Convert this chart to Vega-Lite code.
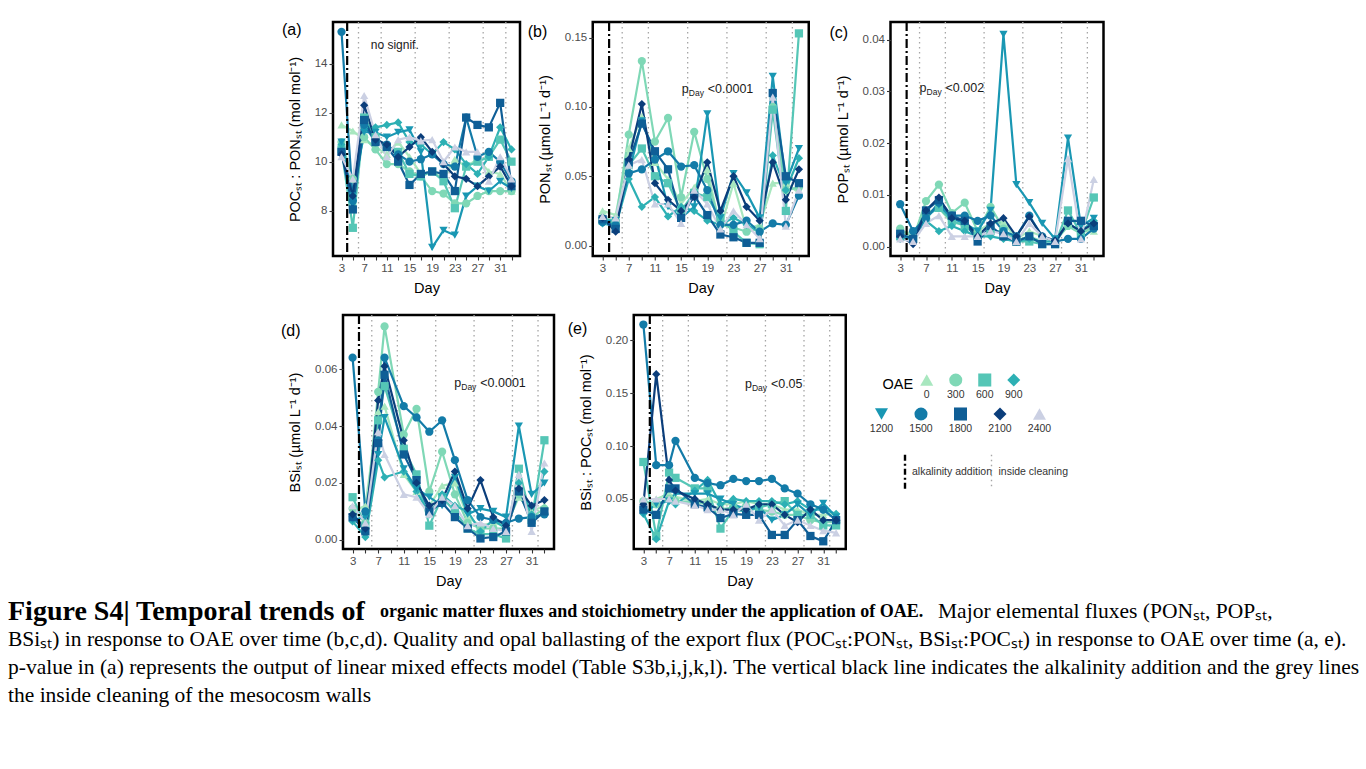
{
  "$schema": "https://vega.github.io/schema/vega-lite/v6.json",
  "background": "white",
  "padding": {"left": 8, "top": 19, "right": 0, "bottom": 0},
  "datasets": {
    "a": [
      {"day":3,"OAE":0,"v":11.5},{"day":5,"OAE":0,"v":11.25},{"day":7,"OAE":0,"v":10.9},{"day":9,"OAE":0,"v":10.6},{"day":11,"OAE":0,"v":10.3},{"day":13,"OAE":0,"v":10.8},{"day":15,"OAE":0,"v":10.2},{"day":17,"OAE":0,"v":9.5},{"day":19,"OAE":0,"v":9.6},{"day":21,"OAE":0,"v":9.3},{"day":23,"OAE":0,"v":10.1},{"day":25,"OAE":0,"v":9.8},{"day":27,"OAE":0,"v":10.1},{"day":29,"OAE":0,"v":9.6},{"day":31,"OAE":0,"v":9.5},{"day":33,"OAE":0,"v":8.8},
      {"day":3,"OAE":300,"v":10.8},{"day":5,"OAE":300,"v":9.3},{"day":7,"OAE":300,"v":11.0},{"day":9,"OAE":300,"v":10.5},{"day":11,"OAE":300,"v":9.9},{"day":13,"OAE":300,"v":9.9},{"day":15,"OAE":300,"v":9.6},{"day":17,"OAE":300,"v":9.4},{"day":19,"OAE":300,"v":8.8},{"day":21,"OAE":300,"v":8.7},{"day":23,"OAE":300,"v":8.3},{"day":25,"OAE":300,"v":8.3},{"day":27,"OAE":300,"v":8.6},{"day":29,"OAE":300,"v":8.8},{"day":31,"OAE":300,"v":8.8},{"day":33,"OAE":300,"v":8.8},
      {"day":3,"OAE":600,"v":10.5},{"day":5,"OAE":600,"v":7.3},{"day":7,"OAE":600,"v":11.8},{"day":9,"OAE":600,"v":11.0},{"day":11,"OAE":600,"v":10.6},{"day":13,"OAE":600,"v":10.4},{"day":15,"OAE":600,"v":9.5},{"day":17,"OAE":600,"v":9.4},{"day":19,"OAE":600,"v":9.6},{"day":21,"OAE":600,"v":9.2},{"day":23,"OAE":600,"v":8.1},{"day":25,"OAE":600,"v":9.8},{"day":27,"OAE":600,"v":10.0},{"day":29,"OAE":600,"v":10.2},{"day":31,"OAE":600,"v":10.9},{"day":33,"OAE":600,"v":10.0},
      {"day":3,"OAE":900,"v":10.7},{"day":5,"OAE":900,"v":8.4},{"day":7,"OAE":900,"v":11.4},{"day":9,"OAE":900,"v":11.4},{"day":11,"OAE":900,"v":11.5},{"day":13,"OAE":900,"v":11.6},{"day":15,"OAE":900,"v":10.8},{"day":17,"OAE":900,"v":10.7},{"day":19,"OAE":900,"v":10.3},{"day":21,"OAE":900,"v":10.8},{"day":23,"OAE":900,"v":10.5},{"day":25,"OAE":900,"v":9.9},{"day":27,"OAE":900,"v":9.5},{"day":29,"OAE":900,"v":10.2},{"day":31,"OAE":900,"v":11.4},{"day":33,"OAE":900,"v":10.5},
      {"day":3,"OAE":1200,"v":10.8},{"day":5,"OAE":1200,"v":8.6},{"day":7,"OAE":1200,"v":11.2},{"day":9,"OAE":1200,"v":11.2},{"day":11,"OAE":1200,"v":11.0},{"day":13,"OAE":1200,"v":11.2},{"day":15,"OAE":1200,"v":11.3},{"day":17,"OAE":1200,"v":10.4},{"day":19,"OAE":1200,"v":6.5},{"day":21,"OAE":1200,"v":7.2},{"day":23,"OAE":1200,"v":7.0},{"day":25,"OAE":1200,"v":8.6},{"day":27,"OAE":1200,"v":9.0},{"day":29,"OAE":1200,"v":8.8},{"day":31,"OAE":1200,"v":9.2},{"day":33,"OAE":1200,"v":8.9},
      {"day":3,"OAE":1500,"v":15.3},{"day":5,"OAE":1500,"v":8.4},{"day":7,"OAE":1500,"v":11.5},{"day":9,"OAE":1500,"v":10.8},{"day":11,"OAE":1500,"v":10.7},{"day":13,"OAE":1500,"v":10.3},{"day":15,"OAE":1500,"v":10.0},{"day":17,"OAE":1500,"v":10.1},{"day":19,"OAE":1500,"v":10.3},{"day":21,"OAE":1500,"v":9.9},{"day":23,"OAE":1500,"v":9.8},{"day":25,"OAE":1500,"v":11.8},{"day":27,"OAE":1500,"v":10.2},{"day":29,"OAE":1500,"v":10.4},{"day":31,"OAE":1500,"v":10.0},{"day":33,"OAE":1500,"v":9.2},
      {"day":3,"OAE":1800,"v":10.4},{"day":5,"OAE":1800,"v":8.05},{"day":7,"OAE":1800,"v":11.7},{"day":9,"OAE":1800,"v":10.8},{"day":11,"OAE":1800,"v":10.6},{"day":13,"OAE":1800,"v":10.0},{"day":15,"OAE":1800,"v":9.05},{"day":17,"OAE":1800,"v":9.5},{"day":19,"OAE":1800,"v":9.6},{"day":21,"OAE":1800,"v":9.5},{"day":23,"OAE":1800,"v":8.8},{"day":25,"OAE":1800,"v":11.8},{"day":27,"OAE":1800,"v":11.5},{"day":29,"OAE":1800,"v":11.4},{"day":31,"OAE":1800,"v":12.4},{"day":33,"OAE":1800,"v":9.0},
      {"day":3,"OAE":2100,"v":10.3},{"day":5,"OAE":2100,"v":8.6},{"day":7,"OAE":2100,"v":12.3},{"day":9,"OAE":2100,"v":10.9},{"day":11,"OAE":2100,"v":10.7},{"day":13,"OAE":2100,"v":10.2},{"day":15,"OAE":2100,"v":10.6},{"day":17,"OAE":2100,"v":11.0},{"day":19,"OAE":2100,"v":10.4},{"day":21,"OAE":2100,"v":9.9},{"day":23,"OAE":2100,"v":9.4},{"day":25,"OAE":2100,"v":9.3},{"day":27,"OAE":2100,"v":9.0},{"day":29,"OAE":2100,"v":9.4},{"day":31,"OAE":2100,"v":9.8},{"day":33,"OAE":2100,"v":9.0},
      {"day":3,"OAE":2400,"v":10.2},{"day":5,"OAE":2400,"v":9.3},{"day":7,"OAE":2400,"v":12.7},{"day":9,"OAE":2400,"v":11.1},{"day":11,"OAE":2400,"v":10.2},{"day":13,"OAE":2400,"v":10.9},{"day":15,"OAE":2400,"v":11.0},{"day":17,"OAE":2400,"v":10.85},{"day":19,"OAE":2400,"v":10.9},{"day":21,"OAE":2400,"v":10.0},{"day":23,"OAE":2400,"v":10.6},{"day":25,"OAE":2400,"v":10.4},{"day":27,"OAE":2400,"v":10.4},{"day":29,"OAE":2400,"v":9.2},{"day":31,"OAE":2400,"v":10.2},{"day":33,"OAE":2400,"v":9.3}
    ],
    "b": [
      {"day":3,"OAE":0,"v":0.025},{"day":5,"OAE":0,"v":0.022},{"day":7,"OAE":0,"v":0.07},{"day":9,"OAE":0,"v":0.093},{"day":11,"OAE":0,"v":0.06},{"day":13,"OAE":0,"v":0.048},{"day":15,"OAE":0,"v":0.03},{"day":17,"OAE":0,"v":0.042},{"day":19,"OAE":0,"v":0.055},{"day":21,"OAE":0,"v":0.012},{"day":23,"OAE":0,"v":0.045},{"day":25,"OAE":0,"v":0.012},{"day":27,"OAE":0,"v":0.015},{"day":29,"OAE":0,"v":0.045},{"day":31,"OAE":0,"v":0.045},{"day":33,"OAE":0,"v":0.038},
      {"day":3,"OAE":300,"v":0.02},{"day":5,"OAE":300,"v":0.018},{"day":7,"OAE":300,"v":0.08},{"day":9,"OAE":300,"v":0.133},{"day":11,"OAE":300,"v":0.075},{"day":13,"OAE":300,"v":0.092},{"day":15,"OAE":300,"v":0.035},{"day":17,"OAE":300,"v":0.082},{"day":19,"OAE":300,"v":0.048},{"day":21,"OAE":300,"v":0.015},{"day":23,"OAE":300,"v":0.013},{"day":25,"OAE":300,"v":0.01},{"day":27,"OAE":300,"v":0.012},{"day":29,"OAE":300,"v":0.1},{"day":31,"OAE":300,"v":0.04},{"day":33,"OAE":300,"v":0.042},
      {"day":3,"OAE":600,"v":0.018},{"day":5,"OAE":600,"v":0.016},{"day":7,"OAE":600,"v":0.058},{"day":9,"OAE":600,"v":0.07},{"day":11,"OAE":600,"v":0.05},{"day":13,"OAE":600,"v":0.045},{"day":15,"OAE":600,"v":0.025},{"day":17,"OAE":600,"v":0.038},{"day":19,"OAE":600,"v":0.035},{"day":21,"OAE":600,"v":0.02},{"day":23,"OAE":600,"v":0.01},{"day":25,"OAE":600,"v":0.002},{"day":27,"OAE":600,"v":0.001},{"day":29,"OAE":600,"v":0.098},{"day":31,"OAE":600,"v":0.025},{"day":33,"OAE":600,"v":0.153},
      {"day":3,"OAE":900,"v":0.016},{"day":5,"OAE":900,"v":0.014},{"day":7,"OAE":900,"v":0.048},{"day":9,"OAE":900,"v":0.028},{"day":11,"OAE":900,"v":0.035},{"day":13,"OAE":900,"v":0.021},{"day":15,"OAE":900,"v":0.028},{"day":17,"OAE":900,"v":0.025},{"day":19,"OAE":900,"v":0.018},{"day":21,"OAE":900,"v":0.015},{"day":23,"OAE":900,"v":0.02},{"day":25,"OAE":900,"v":0.015},{"day":27,"OAE":900,"v":0.01},{"day":29,"OAE":900,"v":0.065},{"day":31,"OAE":900,"v":0.04},{"day":33,"OAE":900,"v":0.063},
      {"day":3,"OAE":1200,"v":0.018},{"day":5,"OAE":1200,"v":0.018},{"day":7,"OAE":1200,"v":0.052},{"day":9,"OAE":1200,"v":0.09},{"day":11,"OAE":1200,"v":0.065},{"day":13,"OAE":1200,"v":0.028},{"day":15,"OAE":1200,"v":0.02},{"day":17,"OAE":1200,"v":0.028},{"day":19,"OAE":1200,"v":0.095},{"day":21,"OAE":1200,"v":0.02},{"day":23,"OAE":1200,"v":0.052},{"day":25,"OAE":1200,"v":0.038},{"day":27,"OAE":1200,"v":0.02},{"day":29,"OAE":1200,"v":0.122},{"day":31,"OAE":1200,"v":0.045},{"day":33,"OAE":1200,"v":0.07},
      {"day":3,"OAE":1500,"v":0.017},{"day":5,"OAE":1500,"v":0.015},{"day":7,"OAE":1500,"v":0.052},{"day":9,"OAE":1500,"v":0.055},{"day":11,"OAE":1500,"v":0.062},{"day":13,"OAE":1500,"v":0.068},{"day":15,"OAE":1500,"v":0.057},{"day":17,"OAE":1500,"v":0.058},{"day":19,"OAE":1500,"v":0.04},{"day":21,"OAE":1500,"v":0.015},{"day":23,"OAE":1500,"v":0.015},{"day":25,"OAE":1500,"v":0.018},{"day":27,"OAE":1500,"v":0.01},{"day":29,"OAE":1500,"v":0.016},{"day":31,"OAE":1500,"v":0.015},{"day":33,"OAE":1500,"v":0.036},
      {"day":3,"OAE":1800,"v":0.019},{"day":5,"OAE":1800,"v":0.012},{"day":7,"OAE":1800,"v":0.06},{"day":9,"OAE":1800,"v":0.088},{"day":11,"OAE":1800,"v":0.068},{"day":13,"OAE":1800,"v":0.055},{"day":15,"OAE":1800,"v":0.02},{"day":17,"OAE":1800,"v":0.036},{"day":19,"OAE":1800,"v":0.022},{"day":21,"OAE":1800,"v":0.008},{"day":23,"OAE":1800,"v":0.006},{"day":25,"OAE":1800,"v":0.002},{"day":27,"OAE":1800,"v":0.002},{"day":29,"OAE":1800,"v":0.11},{"day":31,"OAE":1800,"v":0.05},{"day":33,"OAE":1800,"v":0.045},
      {"day":3,"OAE":2100,"v":0.02},{"day":5,"OAE":2100,"v":0.01},{"day":7,"OAE":2100,"v":0.062},{"day":9,"OAE":2100,"v":0.102},{"day":11,"OAE":2100,"v":0.045},{"day":13,"OAE":2100,"v":0.033},{"day":15,"OAE":2100,"v":0.025},{"day":17,"OAE":2100,"v":0.035},{"day":19,"OAE":2100,"v":0.06},{"day":21,"OAE":2100,"v":0.025},{"day":23,"OAE":2100,"v":0.05},{"day":25,"OAE":2100,"v":0.028},{"day":27,"OAE":2100,"v":0.018},{"day":29,"OAE":2100,"v":0.06},{"day":31,"OAE":2100,"v":0.033},{"day":33,"OAE":2100,"v":0.055},
      {"day":3,"OAE":2400,"v":0.021},{"day":5,"OAE":2400,"v":0.02},{"day":7,"OAE":2400,"v":0.058},{"day":9,"OAE":2400,"v":0.062},{"day":11,"OAE":2400,"v":0.03},{"day":13,"OAE":2400,"v":0.03},{"day":15,"OAE":2400,"v":0.016},{"day":17,"OAE":2400,"v":0.04},{"day":19,"OAE":2400,"v":0.03},{"day":21,"OAE":2400,"v":0.012},{"day":23,"OAE":2400,"v":0.025},{"day":25,"OAE":2400,"v":0.015},{"day":27,"OAE":2400,"v":0.005},{"day":29,"OAE":2400,"v":0.107},{"day":31,"OAE":2400,"v":0.014},{"day":33,"OAE":2400,"v":0.04}
    ],
    "c": [
      {"day":3,"OAE":0,"v":0.003},{"day":5,"OAE":0,"v":0.0025},{"day":7,"OAE":0,"v":0.0065},{"day":9,"OAE":0,"v":0.0075},{"day":11,"OAE":0,"v":0.0045},{"day":13,"OAE":0,"v":0.0045},{"day":15,"OAE":0,"v":0.003},{"day":17,"OAE":0,"v":0.0045},{"day":19,"OAE":0,"v":0.0048},{"day":21,"OAE":0,"v":0.0015},{"day":23,"OAE":0,"v":0.003},{"day":25,"OAE":0,"v":0.002},{"day":27,"OAE":0,"v":0.001},{"day":29,"OAE":0,"v":0.0045},{"day":31,"OAE":0,"v":0.003},{"day":33,"OAE":0,"v":0.003},
      {"day":3,"OAE":300,"v":0.0035},{"day":5,"OAE":300,"v":0.0015},{"day":7,"OAE":300,"v":0.0088},{"day":9,"OAE":300,"v":0.012},{"day":11,"OAE":300,"v":0.0065},{"day":13,"OAE":300,"v":0.0085},{"day":15,"OAE":300,"v":0.003},{"day":17,"OAE":300,"v":0.0077},{"day":19,"OAE":300,"v":0.0035},{"day":21,"OAE":300,"v":0.0012},{"day":23,"OAE":300,"v":0.002},{"day":25,"OAE":300,"v":0.001},{"day":27,"OAE":300,"v":0.001},{"day":29,"OAE":300,"v":0.004},{"day":31,"OAE":300,"v":0.0025},{"day":33,"OAE":300,"v":0.004},
      {"day":3,"OAE":600,"v":0.002},{"day":5,"OAE":600,"v":0.0015},{"day":7,"OAE":600,"v":0.006},{"day":9,"OAE":600,"v":0.0075},{"day":11,"OAE":600,"v":0.005},{"day":13,"OAE":600,"v":0.004},{"day":15,"OAE":600,"v":0.002},{"day":17,"OAE":600,"v":0.003},{"day":19,"OAE":600,"v":0.003},{"day":21,"OAE":600,"v":0.001},{"day":23,"OAE":600,"v":0.001},{"day":25,"OAE":600,"v":0.0005},{"day":27,"OAE":600,"v":0.0005},{"day":29,"OAE":600,"v":0.007},{"day":31,"OAE":600,"v":0.0025},{"day":33,"OAE":600,"v":0.0095},
      {"day":3,"OAE":900,"v":0.0015},{"day":5,"OAE":900,"v":0.0012},{"day":7,"OAE":900,"v":0.005},{"day":9,"OAE":900,"v":0.003},{"day":11,"OAE":900,"v":0.004},{"day":13,"OAE":900,"v":0.003},{"day":15,"OAE":900,"v":0.002},{"day":17,"OAE":900,"v":0.002},{"day":19,"OAE":900,"v":0.0015},{"day":21,"OAE":900,"v":0.001},{"day":23,"OAE":900,"v":0.0015},{"day":25,"OAE":900,"v":0.001},{"day":27,"OAE":900,"v":0.001},{"day":29,"OAE":900,"v":0.0045},{"day":31,"OAE":900,"v":0.003},{"day":33,"OAE":900,"v":0.005},
      {"day":3,"OAE":1200,"v":0.002},{"day":5,"OAE":1200,"v":0.0015},{"day":7,"OAE":1200,"v":0.0055},{"day":9,"OAE":1200,"v":0.008},{"day":11,"OAE":1200,"v":0.0055},{"day":13,"OAE":1200,"v":0.0045},{"day":15,"OAE":1200,"v":0.003},{"day":17,"OAE":1200,"v":0.007},{"day":19,"OAE":1200,"v":0.041},{"day":21,"OAE":1200,"v":0.012},{"day":23,"OAE":1200,"v":0.0085},{"day":25,"OAE":1200,"v":0.0045},{"day":27,"OAE":1200,"v":0.0015},{"day":29,"OAE":1200,"v":0.021},{"day":31,"OAE":1200,"v":0.004},{"day":33,"OAE":1200,"v":0.0055},
      {"day":3,"OAE":1500,"v":0.0082},{"day":5,"OAE":1500,"v":0.003},{"day":7,"OAE":1500,"v":0.0055},{"day":9,"OAE":1500,"v":0.0085},{"day":11,"OAE":1500,"v":0.006},{"day":13,"OAE":1500,"v":0.006},{"day":15,"OAE":1500,"v":0.005},{"day":17,"OAE":1500,"v":0.006},{"day":19,"OAE":1500,"v":0.003},{"day":21,"OAE":1500,"v":0.002},{"day":23,"OAE":1500,"v":0.006},{"day":25,"OAE":1500,"v":0.002},{"day":27,"OAE":1500,"v":0.001},{"day":29,"OAE":1500,"v":0.0015},{"day":31,"OAE":1500,"v":0.0015},{"day":33,"OAE":1500,"v":0.0035},
      {"day":3,"OAE":1800,"v":0.0025},{"day":5,"OAE":1800,"v":0.0015},{"day":7,"OAE":1800,"v":0.007},{"day":9,"OAE":1800,"v":0.009},{"day":11,"OAE":1800,"v":0.006},{"day":13,"OAE":1800,"v":0.005},{"day":15,"OAE":1800,"v":0.001},{"day":17,"OAE":1800,"v":0.004},{"day":19,"OAE":1800,"v":0.002},{"day":21,"OAE":1800,"v":0.001},{"day":23,"OAE":1800,"v":0.002},{"day":25,"OAE":1800,"v":0.0005},{"day":27,"OAE":1800,"v":0.0005},{"day":29,"OAE":1800,"v":0.005},{"day":31,"OAE":1800,"v":0.005},{"day":33,"OAE":1800,"v":0.004},
      {"day":3,"OAE":2100,"v":0.002},{"day":5,"OAE":2100,"v":0.0005},{"day":7,"OAE":2100,"v":0.007},{"day":9,"OAE":2100,"v":0.0095},{"day":11,"OAE":2100,"v":0.0055},{"day":13,"OAE":2100,"v":0.005},{"day":15,"OAE":2100,"v":0.002},{"day":17,"OAE":2100,"v":0.0045},{"day":19,"OAE":2100,"v":0.0055},{"day":21,"OAE":2100,"v":0.002},{"day":23,"OAE":2100,"v":0.0058},{"day":25,"OAE":2100,"v":0.002},{"day":27,"OAE":2100,"v":0.0012},{"day":29,"OAE":2100,"v":0.0045},{"day":31,"OAE":2100,"v":0.003},{"day":33,"OAE":2100,"v":0.0045},
      {"day":3,"OAE":2400,"v":0.0015},{"day":5,"OAE":2400,"v":0.001},{"day":7,"OAE":2400,"v":0.0045},{"day":9,"OAE":2400,"v":0.006},{"day":11,"OAE":2400,"v":0.002},{"day":13,"OAE":2400,"v":0.002},{"day":15,"OAE":2400,"v":0.002},{"day":17,"OAE":2400,"v":0.003},{"day":19,"OAE":2400,"v":0.0025},{"day":21,"OAE":2400,"v":0.001},{"day":23,"OAE":2400,"v":0.0045},{"day":25,"OAE":2400,"v":0.002},{"day":27,"OAE":2400,"v":0.001},{"day":29,"OAE":2400,"v":0.017},{"day":31,"OAE":2400,"v":0.0015},{"day":33,"OAE":2400,"v":0.013}
    ],
    "d": [
      {"day":3,"OAE":0,"v":0.01},{"day":5,"OAE":0,"v":0.012},{"day":7,"OAE":0,"v":0.045},{"day":8,"OAE":0,"v":0.047},{"day":11,"OAE":0,"v":0.023},{"day":13,"OAE":0,"v":0.017},{"day":15,"OAE":0,"v":0.012},{"day":17,"OAE":0,"v":0.019},{"day":19,"OAE":0,"v":0.02},{"day":21,"OAE":0,"v":0.008},{"day":23,"OAE":0,"v":0.005},{"day":25,"OAE":0,"v":0.006},{"day":27,"OAE":0,"v":0.005},{"day":29,"OAE":0,"v":0.015},{"day":31,"OAE":0,"v":0.01},{"day":33,"OAE":0,"v":0.012},
      {"day":3,"OAE":300,"v":0.011},{"day":5,"OAE":300,"v":0.006},{"day":7,"OAE":300,"v":0.052},{"day":8,"OAE":300,"v":0.075},{"day":11,"OAE":300,"v":0.037},{"day":13,"OAE":300,"v":0.046},{"day":15,"OAE":300,"v":0.017},{"day":17,"OAE":300,"v":0.031},{"day":19,"OAE":300,"v":0.016},{"day":21,"OAE":300,"v":0.006},{"day":23,"OAE":300,"v":0.004},{"day":25,"OAE":300,"v":0.004},{"day":27,"OAE":300,"v":0.004},{"day":29,"OAE":300,"v":0.016},{"day":31,"OAE":300,"v":0.008},{"day":33,"OAE":300,"v":0.011},
      {"day":3,"OAE":600,"v":0.015},{"day":5,"OAE":600,"v":0.005},{"day":7,"OAE":600,"v":0.042},{"day":8,"OAE":600,"v":0.054},{"day":11,"OAE":600,"v":0.032},{"day":13,"OAE":600,"v":0.023},{"day":15,"OAE":600,"v":0.005},{"day":17,"OAE":600,"v":0.015},{"day":19,"OAE":600,"v":0.01},{"day":21,"OAE":600,"v":0.004},{"day":23,"OAE":600,"v":0.002},{"day":25,"OAE":600,"v":0.002},{"day":27,"OAE":600,"v":0.0005},{"day":29,"OAE":600,"v":0.025},{"day":31,"OAE":600,"v":0.007},{"day":33,"OAE":600,"v":0.035},
      {"day":3,"OAE":900,"v":0.0065},{"day":5,"OAE":900,"v":0.001},{"day":7,"OAE":900,"v":0.028},{"day":8,"OAE":900,"v":0.022},{"day":11,"OAE":900,"v":0.024},{"day":13,"OAE":900,"v":0.017},{"day":15,"OAE":900,"v":0.009},{"day":17,"OAE":900,"v":0.016},{"day":19,"OAE":900,"v":0.012},{"day":21,"OAE":900,"v":0.01},{"day":23,"OAE":900,"v":0.003},{"day":25,"OAE":900,"v":0.007},{"day":27,"OAE":900,"v":0.004},{"day":29,"OAE":900,"v":0.02},{"day":31,"OAE":900,"v":0.009},{"day":33,"OAE":900,"v":0.024},
      {"day":3,"OAE":1200,"v":0.007},{"day":5,"OAE":1200,"v":0.008},{"day":7,"OAE":1200,"v":0.03},{"day":8,"OAE":1200,"v":0.043},{"day":11,"OAE":1200,"v":0.025},{"day":13,"OAE":1200,"v":0.018},{"day":15,"OAE":1200,"v":0.015},{"day":17,"OAE":1200,"v":0.012},{"day":19,"OAE":1200,"v":0.022},{"day":21,"OAE":1200,"v":0.009},{"day":23,"OAE":1200,"v":0.011},{"day":25,"OAE":1200,"v":0.01},{"day":27,"OAE":1200,"v":0.008},{"day":29,"OAE":1200,"v":0.04},{"day":31,"OAE":1200,"v":0.016},{"day":33,"OAE":1200,"v":0.02},
      {"day":3,"OAE":1500,"v":0.064},{"day":5,"OAE":1500,"v":0.01},{"day":7,"OAE":1500,"v":0.035},{"day":8,"OAE":1500,"v":0.064},{"day":11,"OAE":1500,"v":0.047},{"day":13,"OAE":1500,"v":0.043},{"day":15,"OAE":1500,"v":0.038},{"day":17,"OAE":1500,"v":0.042},{"day":19,"OAE":1500,"v":0.028},{"day":21,"OAE":1500,"v":0.014},{"day":23,"OAE":1500,"v":0.008},{"day":25,"OAE":1500,"v":0.007},{"day":27,"OAE":1500,"v":0.006},{"day":29,"OAE":1500,"v":0.0075},{"day":31,"OAE":1500,"v":0.008},{"day":33,"OAE":1500,"v":0.009},
      {"day":3,"OAE":1800,"v":0.008},{"day":5,"OAE":1800,"v":0.003},{"day":7,"OAE":1800,"v":0.034},{"day":8,"OAE":1800,"v":0.058},{"day":11,"OAE":1800,"v":0.03},{"day":13,"OAE":1800,"v":0.021},{"day":15,"OAE":1800,"v":0.01},{"day":17,"OAE":1800,"v":0.013},{"day":19,"OAE":1800,"v":0.008},{"day":21,"OAE":1800,"v":0.004},{"day":23,"OAE":1800,"v":0.0005},{"day":25,"OAE":1800,"v":0.001},{"day":27,"OAE":1800,"v":0.003},{"day":29,"OAE":1800,"v":0.017},{"day":31,"OAE":1800,"v":0.006},{"day":33,"OAE":1800,"v":0.01},
      {"day":3,"OAE":2100,"v":0.009},{"day":5,"OAE":2100,"v":0.004},{"day":7,"OAE":2100,"v":0.049},{"day":8,"OAE":2100,"v":0.061},{"day":11,"OAE":2100,"v":0.035},{"day":13,"OAE":2100,"v":0.02},{"day":15,"OAE":2100,"v":0.012},{"day":17,"OAE":2100,"v":0.014},{"day":19,"OAE":2100,"v":0.024},{"day":21,"OAE":2100,"v":0.011},{"day":23,"OAE":2100,"v":0.021},{"day":25,"OAE":2100,"v":0.008},{"day":27,"OAE":2100,"v":0.005},{"day":29,"OAE":2100,"v":0.018},{"day":31,"OAE":2100,"v":0.012},{"day":33,"OAE":2100,"v":0.014},
      {"day":3,"OAE":2400,"v":0.012},{"day":5,"OAE":2400,"v":0.006},{"day":7,"OAE":2400,"v":0.038},{"day":8,"OAE":2400,"v":0.03},{"day":11,"OAE":2400,"v":0.016},{"day":13,"OAE":2400,"v":0.015},{"day":15,"OAE":2400,"v":0.009},{"day":17,"OAE":2400,"v":0.015},{"day":19,"OAE":2400,"v":0.012},{"day":21,"OAE":2400,"v":0.005},{"day":23,"OAE":2400,"v":0.006},{"day":25,"OAE":2400,"v":0.004},{"day":27,"OAE":2400,"v":0.003},{"day":29,"OAE":2400,"v":0.023},{"day":31,"OAE":2400,"v":0.003},{"day":33,"OAE":2400,"v":0.027}
    ],
    "e": [
      {"day":3,"OAE":0,"v":0.05},{"day":5,"OAE":0,"v":0.05},{"day":7,"OAE":0,"v":0.055},{"day":8,"OAE":0,"v":0.052},{"day":11,"OAE":0,"v":0.048},{"day":13,"OAE":0,"v":0.05},{"day":15,"OAE":0,"v":0.045},{"day":17,"OAE":0,"v":0.045},{"day":19,"OAE":0,"v":0.048},{"day":21,"OAE":0,"v":0.045},{"day":23,"OAE":0,"v":0.045},{"day":25,"OAE":0,"v":0.04},{"day":27,"OAE":0,"v":0.04},{"day":29,"OAE":0,"v":0.035},{"day":31,"OAE":0,"v":0.035},{"day":33,"OAE":0,"v":0.036},
      {"day":3,"OAE":300,"v":0.048},{"day":5,"OAE":300,"v":0.045},{"day":7,"OAE":300,"v":0.05},{"day":8,"OAE":300,"v":0.048},{"day":11,"OAE":300,"v":0.047},{"day":13,"OAE":300,"v":0.045},{"day":15,"OAE":300,"v":0.04},{"day":17,"OAE":300,"v":0.042},{"day":19,"OAE":300,"v":0.043},{"day":21,"OAE":300,"v":0.04},{"day":23,"OAE":300,"v":0.038},{"day":25,"OAE":300,"v":0.035},{"day":27,"OAE":300,"v":0.035},{"day":29,"OAE":300,"v":0.03},{"day":31,"OAE":300,"v":0.028},{"day":33,"OAE":300,"v":0.028},
      {"day":3,"OAE":600,"v":0.085},{"day":5,"OAE":600,"v":0.015},{"day":7,"OAE":600,"v":0.075},{"day":8,"OAE":600,"v":0.07},{"day":11,"OAE":600,"v":0.06},{"day":13,"OAE":600,"v":0.06},{"day":15,"OAE":600,"v":0.022},{"day":17,"OAE":600,"v":0.04},{"day":19,"OAE":600,"v":0.038},{"day":21,"OAE":600,"v":0.042},{"day":23,"OAE":600,"v":0.045},{"day":25,"OAE":600,"v":0.048},{"day":27,"OAE":600,"v":0.035},{"day":29,"OAE":600,"v":0.035},{"day":31,"OAE":600,"v":0.025},{"day":33,"OAE":600,"v":0.025},
      {"day":3,"OAE":900,"v":0.036},{"day":5,"OAE":900,"v":0.012},{"day":7,"OAE":900,"v":0.048},{"day":8,"OAE":900,"v":0.045},{"day":11,"OAE":900,"v":0.058},{"day":13,"OAE":900,"v":0.068},{"day":15,"OAE":900,"v":0.045},{"day":17,"OAE":900,"v":0.05},{"day":19,"OAE":900,"v":0.048},{"day":21,"OAE":900,"v":0.048},{"day":23,"OAE":900,"v":0.048},{"day":25,"OAE":900,"v":0.045},{"day":27,"OAE":900,"v":0.048},{"day":29,"OAE":900,"v":0.04},{"day":31,"OAE":900,"v":0.04},{"day":33,"OAE":900,"v":0.036},
      {"day":3,"OAE":1200,"v":0.036},{"day":5,"OAE":1200,"v":0.045},{"day":7,"OAE":1200,"v":0.048},{"day":8,"OAE":1200,"v":0.055},{"day":11,"OAE":1200,"v":0.055},{"day":13,"OAE":1200,"v":0.055},{"day":15,"OAE":1200,"v":0.05},{"day":17,"OAE":1200,"v":0.045},{"day":19,"OAE":1200,"v":0.04},{"day":21,"OAE":1200,"v":0.042},{"day":23,"OAE":1200,"v":0.03},{"day":25,"OAE":1200,"v":0.035},{"day":27,"OAE":1200,"v":0.045},{"day":29,"OAE":1200,"v":0.035},{"day":31,"OAE":1200,"v":0.046},{"day":33,"OAE":1200,"v":0.033},
      {"day":3,"OAE":1500,"v":0.215},{"day":5,"OAE":1500,"v":0.082},{"day":7,"OAE":1500,"v":0.082},{"day":8,"OAE":1500,"v":0.105},{"day":11,"OAE":1500,"v":0.07},{"day":13,"OAE":1500,"v":0.065},{"day":15,"OAE":1500,"v":0.063},{"day":17,"OAE":1500,"v":0.069},{"day":19,"OAE":1500,"v":0.067},{"day":21,"OAE":1500,"v":0.067},{"day":23,"OAE":1500,"v":0.069},{"day":25,"OAE":1500,"v":0.06},{"day":27,"OAE":1500,"v":0.055},{"day":29,"OAE":1500,"v":0.045},{"day":31,"OAE":1500,"v":0.04},{"day":33,"OAE":1500,"v":0.03},
      {"day":3,"OAE":1800,"v":0.04},{"day":5,"OAE":1800,"v":0.035},{"day":7,"OAE":1800,"v":0.06},{"day":8,"OAE":1800,"v":0.06},{"day":11,"OAE":1800,"v":0.045},{"day":13,"OAE":1800,"v":0.042},{"day":15,"OAE":1800,"v":0.032},{"day":17,"OAE":1800,"v":0.036},{"day":19,"OAE":1800,"v":0.035},{"day":21,"OAE":1800,"v":0.035},{"day":23,"OAE":1800,"v":0.016},{"day":25,"OAE":1800,"v":0.016},{"day":27,"OAE":1800,"v":0.03},{"day":29,"OAE":1800,"v":0.015},{"day":31,"OAE":1800,"v":0.01},{"day":33,"OAE":1800,"v":0.03},
      {"day":3,"OAE":2100,"v":0.045},{"day":5,"OAE":2100,"v":0.168},{"day":7,"OAE":2100,"v":0.068},{"day":8,"OAE":2100,"v":0.058},{"day":11,"OAE":2100,"v":0.05},{"day":13,"OAE":2100,"v":0.045},{"day":15,"OAE":2100,"v":0.04},{"day":17,"OAE":2100,"v":0.04},{"day":19,"OAE":2100,"v":0.04},{"day":21,"OAE":2100,"v":0.045},{"day":23,"OAE":2100,"v":0.045},{"day":25,"OAE":2100,"v":0.035},{"day":27,"OAE":2100,"v":0.028},{"day":29,"OAE":2100,"v":0.04},{"day":31,"OAE":2100,"v":0.03},{"day":33,"OAE":2100,"v":0.03},
      {"day":3,"OAE":2400,"v":0.05},{"day":5,"OAE":2400,"v":0.05},{"day":7,"OAE":2400,"v":0.05},{"day":8,"OAE":2400,"v":0.048},{"day":11,"OAE":2400,"v":0.044},{"day":13,"OAE":2400,"v":0.04},{"day":15,"OAE":2400,"v":0.04},{"day":17,"OAE":2400,"v":0.035},{"day":19,"OAE":2400,"v":0.045},{"day":21,"OAE":2400,"v":0.03},{"day":23,"OAE":2400,"v":0.04},{"day":25,"OAE":2400,"v":0.025},{"day":27,"OAE":2400,"v":0.03},{"day":29,"OAE":2400,"v":0.025},{"day":31,"OAE":2400,"v":0.02},{"day":33,"OAE":2400,"v":0.018}
    ],
    "events": [
      {"day":4,"event":"alkalinity addition"},
      {"day":6,"event":"inside cleaning"},{"day":10,"event":"inside cleaning"},{"day":16,"event":"inside cleaning"},
      {"day":22,"event":"inside cleaning"},{"day":28,"event":"inside cleaning"},{"day":32,"event":"inside cleaning"}
    ],
    "notes": [
      {"panel":"a","day":12.4,"v":14.76,"p":"no signif."},
      {"panel":"b","day":15.1,"v":0.113,"p":"<0.0001"},
      {"panel":"c","day":6.0,"v":0.0306,"p":"<0.002"},
      {"panel":"d","day":18.9,"v":0.0552,"p":"<0.0001"},
      {"panel":"e","day":18.8,"v":0.1588,"p":"<0.05"}
    ],
    "levels": [
      {"OAE":0,"label":"0"},{"OAE":300,"label":"300"},{"OAE":600,"label":"600"},{"OAE":900,"label":"900"},
      {"OAE":1200,"label":"1200"},{"OAE":1500,"label":"1500"},{"OAE":1800,"label":"1800"},{"OAE":2100,"label":"2100"},{"OAE":2400,"label":"2400"}
    ],
    "caption": [
      {"line":1,"seg":"head","text":"Figure S4| Temporal trends of"},
      {"line":1,"seg":"bold","text":"organic matter fluxes and stoichiometry under the application of OAE."},
      {"line":1,"seg":"tail","text":"Major elemental fluxes (PONₛₜ, POPₛₜ,"},
      {"line":2,"seg":"body","text":"BSiₛₜ) in response to OAE over time (b,c,d). Quality and opal ballasting of the export flux (POCₛₜ:PONₛₜ, BSiₛₜ:POCₛₜ) in response to OAE over time (a, e)."},
      {"line":3,"seg":"body","text":"p-value in (a) represents the output of linear mixed effects model (Table S3b,i,j,k,l). The vertical black line indicates the alkalinity addition and the grey lines"},
      {"line":4,"seg":"body","text":"the inside cleaning of the mesocosm walls"}
    ]
  },
  "spacing": 8,
  "vconcat": [
    {
      "spacing": 15,
      "vconcat": [
        {
          "spacing": 271,
          "hconcat": [
            {"width": 1, "height": 1, "view": {"stroke": null}, "data": {"values": []}, "mark": "point"},
            {
              "spacing": 3.75,
              "hconcat": [
                {
                  "width": 187, "height": 234,
                  "title": {"text": "(a)", "anchor": "start", "frame": "group", "dx": -51, "offset": -17},
                  "encoding": {"x": {"field": "day", "type": "quantitative", "scale": {"domain": [1.5, 34.5], "nice": false, "zero": false}, "axis": {"values": [3,5,7,9,11,13,15,17,19,21,23,25,27,29,31,33], "labelExpr": "(datum.value - 3) % 4 === 0 ? datum.label : ''", "labelOverlap": false, "title": "Day"}}},
                  "layer": [
                    {"data": {"name": "events"}, "transform": [{"filter": "datum.event == 'inside cleaning'"}], "mark": {"type": "rule", "color": "#a6a6a6", "strokeDash": [1.5, 3.5], "strokeWidth": 1.3}, "encoding": {}},
                    {"data": {"name": "a"}, "mark": {"type": "line", "strokeWidth": 2.2}, "encoding": {
                      "y": {"field": "v", "type": "quantitative", "scale": {"domain": [6.15, 15.7], "nice": false, "zero": false}, "axis": {"values": [8, 10, 12, 14], "title": "POCₛₜ : PONₛₜ (mol mol⁻¹)"}},
                      "color": {"field": "OAE", "type": "nominal", "scale": {"domain": [0,300,600,900,1200,1500,1800,2100,2400], "range": ["#a8e7bf","#7fd8b6","#55c6b6","#2db0b4","#1997b3","#137ba8","#0f5e96","#0b3e7b","#cbd0e3"]}, "legend": null}}},
                    {"data": {"name": "a"}, "mark": {"type": "point", "filled": true, "size": 68, "opacity": 1}, "encoding": {
                      "y": {"field": "v", "type": "quantitative", "scale": {"domain": [6.15, 15.7], "nice": false, "zero": false}, "axis": {"values": [8, 10, 12, 14], "title": "POCₛₜ : PONₛₜ (mol mol⁻¹)"}},
                      "color": {"field": "OAE", "type": "nominal", "scale": {"domain": [0,300,600,900,1200,1500,1800,2100,2400], "range": ["#a8e7bf","#7fd8b6","#55c6b6","#2db0b4","#1997b3","#137ba8","#0f5e96","#0b3e7b","#cbd0e3"]}, "legend": null},
                      "shape": {"field": "OAE", "type": "nominal", "scale": {"domain": [0,300,600,900,1200,1500,1800,2100,2400], "range": ["triangle-up","circle","square","diamond","triangle-down","circle","square","diamond","triangle-up"]}, "legend": null}}},
                    {"data": {"name": "events"}, "transform": [{"filter": "datum.event == 'alkalinity addition'"}], "mark": {"type": "rule", "color": "black", "strokeDash": [9, 3, 2, 3], "strokeWidth": 2.2}, "encoding": {}},
                    {"data": {"name": "notes"}, "transform": [{"filter": "datum.panel == 'a'"}], "mark": {"type": "text", "fontSize": 12, "color": "#1a1a1a"}, "encoding": {
                      "y": {"field": "v", "type": "quantitative", "scale": {"domain": [6.15, 15.7], "nice": false, "zero": false}, "axis": {"values": [8, 10, 12, 14], "title": "POCₛₜ : PONₛₜ (mol mol⁻¹)"}},
                      "text": {"field": "p"}}}
                  ]
                },
                {
                  "spacing": 16.75,
                  "hconcat": [
                    {
                      "width": 216, "height": 234,
                      "title": {"text": "(b)", "anchor": "start", "frame": "group", "dx": -65, "offset": -19},
                      "encoding": {"x": {"field": "day", "type": "quantitative", "scale": {"domain": [1.5, 34.5], "nice": false, "zero": false}, "axis": {"values": [3,5,7,9,11,13,15,17,19,21,23,25,27,29,31,33], "labelExpr": "(datum.value - 3) % 4 === 0 ? datum.label : ''", "labelOverlap": false, "title": "Day"}}},
                      "layer": [
                        {"data": {"name": "events"}, "transform": [{"filter": "datum.event == 'inside cleaning'"}], "mark": {"type": "rule", "color": "#a6a6a6", "strokeDash": [1.5, 3.5], "strokeWidth": 1.3}, "encoding": {}},
                        {"data": {"name": "b"}, "mark": {"type": "line", "strokeWidth": 2.2}, "encoding": {
                          "y": {"field": "v", "type": "quantitative", "scale": {"domain": [-0.0075, 0.1612], "nice": false, "zero": false}, "axis": {"values": [0, 0.05, 0.1, 0.15], "format": ".2f", "title": "PONₛₜ (µmol L⁻¹ d⁻¹)"}},
                          "color": {"field": "OAE", "type": "nominal", "scale": {"domain": [0,300,600,900,1200,1500,1800,2100,2400], "range": ["#a8e7bf","#7fd8b6","#55c6b6","#2db0b4","#1997b3","#137ba8","#0f5e96","#0b3e7b","#cbd0e3"]}, "legend": null}}},
                        {"data": {"name": "b"}, "mark": {"type": "point", "filled": true, "size": 68, "opacity": 1}, "encoding": {
                          "y": {"field": "v", "type": "quantitative", "scale": {"domain": [-0.0075, 0.1612], "nice": false, "zero": false}, "axis": {"values": [0, 0.05, 0.1, 0.15], "format": ".2f", "title": "PONₛₜ (µmol L⁻¹ d⁻¹)"}},
                          "color": {"field": "OAE", "type": "nominal", "scale": {"domain": [0,300,600,900,1200,1500,1800,2100,2400], "range": ["#a8e7bf","#7fd8b6","#55c6b6","#2db0b4","#1997b3","#137ba8","#0f5e96","#0b3e7b","#cbd0e3"]}, "legend": null},
                          "shape": {"field": "OAE", "type": "nominal", "scale": {"domain": [0,300,600,900,1200,1500,1800,2100,2400], "range": ["triangle-up","circle","square","diamond","triangle-down","circle","square","diamond","triangle-up"]}, "legend": null}}},
                        {"data": {"name": "events"}, "transform": [{"filter": "datum.event == 'alkalinity addition'"}], "mark": {"type": "rule", "color": "black", "strokeDash": [9, 3, 2, 3], "strokeWidth": 2.2}, "encoding": {}},
                        {"data": {"name": "notes"}, "transform": [{"filter": "datum.panel == 'b'"}], "encoding": {
                          "y": {"field": "v", "type": "quantitative", "scale": {"domain": [-0.0075, 0.1612], "nice": false, "zero": false}, "axis": {"values": [0, 0.05, 0.1, 0.15], "format": ".2f", "title": "PONₛₜ (µmol L⁻¹ d⁻¹)"}}},
                          "layer": [
                            {"mark": {"type": "text", "align": "left", "fontSize": 12.5, "color": "#1a1a1a"}, "encoding": {"text": {"value": "p"}}},
                            {"mark": {"type": "text", "align": "left", "fontSize": 8.5, "dx": 7, "dy": 4, "color": "#1a1a1a"}, "encoding": {"text": {"value": "Day"}}},
                            {"mark": {"type": "text", "align": "left", "fontSize": 12.5, "dx": 26, "color": "#1a1a1a"}, "encoding": {"text": {"field": "p"}}}
                          ]}
                      ]
                    },
                    {
                      "width": 213, "height": 234,
                      "title": {"text": "(c)", "anchor": "start", "frame": "group", "dx": -61, "offset": -20},
                      "encoding": {"x": {"field": "day", "type": "quantitative", "scale": {"domain": [1.5, 34.5], "nice": false, "zero": false}, "axis": {"values": [3,5,7,9,11,13,15,17,19,21,23,25,27,29,31,33], "labelExpr": "(datum.value - 3) % 4 === 0 ? datum.label : ''", "labelOverlap": false, "title": "Day"}}},
                      "layer": [
                        {"data": {"name": "events"}, "transform": [{"filter": "datum.event == 'inside cleaning'"}], "mark": {"type": "rule", "color": "#a6a6a6", "strokeDash": [1.5, 3.5], "strokeWidth": 1.3}, "encoding": {}},
                        {"data": {"name": "c"}, "mark": {"type": "line", "strokeWidth": 2.2}, "encoding": {
                          "y": {"field": "v", "type": "quantitative", "scale": {"domain": [-0.0018, 0.0434], "nice": false, "zero": false}, "axis": {"values": [0, 0.01, 0.02, 0.03, 0.04], "format": ".2f", "title": "POPₛₜ (µmol L⁻¹ d⁻¹)"}},
                          "color": {"field": "OAE", "type": "nominal", "scale": {"domain": [0,300,600,900,1200,1500,1800,2100,2400], "range": ["#a8e7bf","#7fd8b6","#55c6b6","#2db0b4","#1997b3","#137ba8","#0f5e96","#0b3e7b","#cbd0e3"]}, "legend": null}}},
                        {"data": {"name": "c"}, "mark": {"type": "point", "filled": true, "size": 68, "opacity": 1}, "encoding": {
                          "y": {"field": "v", "type": "quantitative", "scale": {"domain": [-0.0018, 0.0434], "nice": false, "zero": false}, "axis": {"values": [0, 0.01, 0.02, 0.03, 0.04], "format": ".2f", "title": "POPₛₜ (µmol L⁻¹ d⁻¹)"}},
                          "color": {"field": "OAE", "type": "nominal", "scale": {"domain": [0,300,600,900,1200,1500,1800,2100,2400], "range": ["#a8e7bf","#7fd8b6","#55c6b6","#2db0b4","#1997b3","#137ba8","#0f5e96","#0b3e7b","#cbd0e3"]}, "legend": null},
                          "shape": {"field": "OAE", "type": "nominal", "scale": {"domain": [0,300,600,900,1200,1500,1800,2100,2400], "range": ["triangle-up","circle","square","diamond","triangle-down","circle","square","diamond","triangle-up"]}, "legend": null}}},
                        {"data": {"name": "events"}, "transform": [{"filter": "datum.event == 'alkalinity addition'"}], "mark": {"type": "rule", "color": "black", "strokeDash": [9, 3, 2, 3], "strokeWidth": 2.2}, "encoding": {}},
                        {"data": {"name": "notes"}, "transform": [{"filter": "datum.panel == 'c'"}], "encoding": {
                          "y": {"field": "v", "type": "quantitative", "scale": {"domain": [-0.0018, 0.0434], "nice": false, "zero": false}, "axis": {"values": [0, 0.01, 0.02, 0.03, 0.04], "format": ".2f", "title": "POPₛₜ (µmol L⁻¹ d⁻¹)"}}},
                          "layer": [
                            {"mark": {"type": "text", "align": "left", "fontSize": 12.5, "color": "#1a1a1a"}, "encoding": {"text": {"value": "p"}}},
                            {"mark": {"type": "text", "align": "left", "fontSize": 8.5, "dx": 7, "dy": 4, "color": "#1a1a1a"}, "encoding": {"text": {"value": "Day"}}},
                            {"mark": {"type": "text", "align": "left", "fontSize": 12.5, "dx": 26, "color": "#1a1a1a"}, "encoding": {"text": {"field": "p"}}}
                          ]}
                      ]
                    }
                  ]
                }
              ]
            }
          ]
        },
        {
          "spacing": 270,
          "hconcat": [
            {"width": 1, "height": 1, "view": {"stroke": null}, "data": {"values": []}, "mark": "point"},
            {
              "spacing": 9.75,
              "hconcat": [
                {
                  "width": 211, "height": 234,
                  "title": {"text": "(d)", "anchor": "start", "frame": "group", "dx": -62, "offset": -25},
                  "encoding": {"x": {"field": "day", "type": "quantitative", "scale": {"domain": [1.5, 34.5], "nice": false, "zero": false}, "axis": {"values": [3,5,7,9,11,13,15,17,19,21,23,25,27,29,31,33], "labelExpr": "(datum.value - 3) % 4 === 0 ? datum.label : ''", "labelOverlap": false, "title": "Day"}}},
                  "layer": [
                    {"data": {"name": "events"}, "transform": [{"filter": "datum.event == 'inside cleaning'"}], "mark": {"type": "rule", "color": "#a6a6a6", "strokeDash": [1.5, 3.5], "strokeWidth": 1.3}, "encoding": {}},
                    {"data": {"name": "d"}, "mark": {"type": "line", "strokeWidth": 2.2}, "encoding": {
                      "y": {"field": "v", "type": "quantitative", "scale": {"domain": [-0.0032, 0.079], "nice": false, "zero": false}, "axis": {"values": [0, 0.02, 0.04, 0.06], "format": ".2f", "title": "BSiₛₜ (µmol L⁻¹ d⁻¹)"}},
                      "color": {"field": "OAE", "type": "nominal", "scale": {"domain": [0,300,600,900,1200,1500,1800,2100,2400], "range": ["#a8e7bf","#7fd8b6","#55c6b6","#2db0b4","#1997b3","#137ba8","#0f5e96","#0b3e7b","#cbd0e3"]}, "legend": null}}},
                    {"data": {"name": "d"}, "mark": {"type": "point", "filled": true, "size": 68, "opacity": 1}, "encoding": {
                      "y": {"field": "v", "type": "quantitative", "scale": {"domain": [-0.0032, 0.079], "nice": false, "zero": false}, "axis": {"values": [0, 0.02, 0.04, 0.06], "format": ".2f", "title": "BSiₛₜ (µmol L⁻¹ d⁻¹)"}},
                      "color": {"field": "OAE", "type": "nominal", "scale": {"domain": [0,300,600,900,1200,1500,1800,2100,2400], "range": ["#a8e7bf","#7fd8b6","#55c6b6","#2db0b4","#1997b3","#137ba8","#0f5e96","#0b3e7b","#cbd0e3"]}, "legend": null},
                      "shape": {"field": "OAE", "type": "nominal", "scale": {"domain": [0,300,600,900,1200,1500,1800,2100,2400], "range": ["triangle-up","circle","square","diamond","triangle-down","circle","square","diamond","triangle-up"]}, "legend": null}}},
                    {"data": {"name": "events"}, "transform": [{"filter": "datum.event == 'alkalinity addition'"}], "mark": {"type": "rule", "color": "black", "strokeDash": [9, 3, 2, 3], "strokeWidth": 2.2}, "encoding": {}},
                    {"data": {"name": "notes"}, "transform": [{"filter": "datum.panel == 'd'"}], "encoding": {
                      "y": {"field": "v", "type": "quantitative", "scale": {"domain": [-0.0032, 0.079], "nice": false, "zero": false}, "axis": {"values": [0, 0.02, 0.04, 0.06], "format": ".2f", "title": "BSiₛₜ (µmol L⁻¹ d⁻¹)"}}},
                      "layer": [
                        {"mark": {"type": "text", "align": "left", "fontSize": 12.5, "color": "#1a1a1a"}, "encoding": {"text": {"value": "p"}}},
                        {"mark": {"type": "text", "align": "left", "fontSize": 8.5, "dx": 7, "dy": 4, "color": "#1a1a1a"}, "encoding": {"text": {"value": "Day"}}},
                        {"mark": {"type": "text", "align": "left", "fontSize": 12.5, "dx": 26, "color": "#1a1a1a"}, "encoding": {"text": {"field": "p"}}}
                      ]}
                  ]
                },
                {
                  "spacing": 14,
                  "hconcat": [
                    {
                      "width": 212, "height": 234,
                      "title": {"text": "(e)", "anchor": "start", "frame": "group", "dx": -66, "offset": -23},
                      "encoding": {"x": {"field": "day", "type": "quantitative", "scale": {"domain": [1.5, 34.5], "nice": false, "zero": false}, "axis": {"values": [3,5,7,9,11,13,15,17,19,21,23,25,27,29,31,33], "labelExpr": "(datum.value - 3) % 4 === 0 ? datum.label : ''", "labelOverlap": false, "title": "Day"}}},
                      "layer": [
                        {"data": {"name": "events"}, "transform": [{"filter": "datum.event == 'inside cleaning'"}], "mark": {"type": "rule", "color": "#a6a6a6", "strokeDash": [1.5, 3.5], "strokeWidth": 1.3}, "encoding": {}},
                        {"data": {"name": "e"}, "mark": {"type": "line", "strokeWidth": 2.2}, "encoding": {
                          "y": {"field": "v", "type": "quantitative", "scale": {"domain": [0.0027, 0.224], "nice": false, "zero": false}, "axis": {"values": [0.05, 0.1, 0.15, 0.2], "format": ".2f", "title": "BSiₛₜ : POCₛₜ (mol mol⁻¹)"}},
                          "color": {"field": "OAE", "type": "nominal", "scale": {"domain": [0,300,600,900,1200,1500,1800,2100,2400], "range": ["#a8e7bf","#7fd8b6","#55c6b6","#2db0b4","#1997b3","#137ba8","#0f5e96","#0b3e7b","#cbd0e3"]}, "legend": null}}},
                        {"data": {"name": "e"}, "mark": {"type": "point", "filled": true, "size": 68, "opacity": 1}, "encoding": {
                          "y": {"field": "v", "type": "quantitative", "scale": {"domain": [0.0027, 0.224], "nice": false, "zero": false}, "axis": {"values": [0.05, 0.1, 0.15, 0.2], "format": ".2f", "title": "BSiₛₜ : POCₛₜ (mol mol⁻¹)"}},
                          "color": {"field": "OAE", "type": "nominal", "scale": {"domain": [0,300,600,900,1200,1500,1800,2100,2400], "range": ["#a8e7bf","#7fd8b6","#55c6b6","#2db0b4","#1997b3","#137ba8","#0f5e96","#0b3e7b","#cbd0e3"]}, "legend": null},
                          "shape": {"field": "OAE", "type": "nominal", "scale": {"domain": [0,300,600,900,1200,1500,1800,2100,2400], "range": ["triangle-up","circle","square","diamond","triangle-down","circle","square","diamond","triangle-up"]}, "legend": null}}},
                        {"data": {"name": "events"}, "transform": [{"filter": "datum.event == 'alkalinity addition'"}], "mark": {"type": "rule", "color": "black", "strokeDash": [9, 3, 2, 3], "strokeWidth": 2.2}, "encoding": {}},
                        {"data": {"name": "notes"}, "transform": [{"filter": "datum.panel == 'e'"}], "encoding": {
                          "y": {"field": "v", "type": "quantitative", "scale": {"domain": [0.0027, 0.224], "nice": false, "zero": false}, "axis": {"values": [0.05, 0.1, 0.15, 0.2], "format": ".2f", "title": "BSiₛₜ : POCₛₜ (mol mol⁻¹)"}}},
                          "layer": [
                            {"mark": {"type": "text", "align": "left", "fontSize": 12.5, "color": "#1a1a1a"}, "encoding": {"text": {"value": "p"}}},
                            {"mark": {"type": "text", "align": "left", "fontSize": 8.5, "dx": 7, "dy": 4, "color": "#1a1a1a"}, "encoding": {"text": {"value": "Day"}}},
                            {"mark": {"type": "text", "align": "left", "fontSize": 12.5, "dx": 26, "color": "#1a1a1a"}, "encoding": {"text": {"field": "p"}}}
                          ]}
                      ]
                    },
                    {
                      "spacing": 17.7,
                      "vconcat": [
                        {
                          "spacing": 2,
                          "vconcat": [
                            {"width": 1, "height": 51.5, "view": {"stroke": null}, "data": {"values": []}, "mark": "point"},
                            {
                              "spacing": 19.5,
                              "hconcat": [
                                {"width": 1, "height": 1, "view": {"stroke": null}, "data": {"values": []}, "mark": "point"},
                                {
                                  "width": 145, "height": 22, "view": {"stroke": null},
                                  "data": {"name": "levels"},
                                  "encoding": {"x": {"field": "label", "type": "ordinal", "axis": null, "scale": {"type": "point", "domain": ["OAE","0","300","600","900"]}}},
                                  "layer": [
                                    {"transform": [{"filter": "datum.OAE <= 900"}], "mark": {"type": "point", "filled": true, "size": 170, "opacity": 1}, "encoding": {
                                      "color": {"field": "OAE", "type": "nominal", "scale": {"domain": [0,300,600,900,1200,1500,1800,2100,2400], "range": ["#a8e7bf","#7fd8b6","#55c6b6","#2db0b4","#1997b3","#137ba8","#0f5e96","#0b3e7b","#cbd0e3"]}, "legend": null},
                                      "shape": {"field": "OAE", "type": "nominal", "scale": {"domain": [0,300,600,900,1200,1500,1800,2100,2400], "range": ["triangle-up","circle","square","diamond","triangle-down","circle","square","diamond","triangle-up"]}, "legend": null}}},
                                    {"transform": [{"filter": "datum.OAE <= 900"}], "mark": {"type": "text", "dy": 15, "fontSize": 10.5, "color": "#333333"}, "encoding": {"text": {"field": "label"}}},
                                    {"data": {"values": [{"label": "OAE"}]}, "mark": {"type": "text", "fontSize": 14.5, "color": "black", "dy": 5}, "encoding": {"text": {"field": "label"}}}
                                  ]
                                }
                              ]
                            },
                            {
                              "width": 197.5, "height": 22, "view": {"stroke": null},
                              "data": {"name": "levels"},
                              "transform": [{"filter": "datum.OAE >= 1200"}],
                              "encoding": {"x": {"field": "label", "type": "ordinal", "axis": null, "scale": {"type": "point", "domain": ["1200","1500","1800","2100","2400"]}}},
                              "layer": [
                                {"mark": {"type": "point", "filled": true, "size": 170, "opacity": 1}, "encoding": {
                                  "color": {"field": "OAE", "type": "nominal", "scale": {"domain": [0,300,600,900,1200,1500,1800,2100,2400], "range": ["#a8e7bf","#7fd8b6","#55c6b6","#2db0b4","#1997b3","#137ba8","#0f5e96","#0b3e7b","#cbd0e3"]}, "legend": null},
                                  "shape": {"field": "OAE", "type": "nominal", "scale": {"domain": [0,300,600,900,1200,1500,1800,2100,2400], "range": ["triangle-up","circle","square","diamond","triangle-down","circle","square","diamond","triangle-up"]}, "legend": null}}},
                                {"mark": {"type": "text", "dy": 15, "fontSize": 10.5, "color": "#333333"}, "encoding": {"text": {"field": "label"}}}
                              ]
                            }
                          ]
                        },
                        {
                          "width": 173, "height": 34, "view": {"stroke": null},
                          "data": {"name": "events"},
                          "transform": [{"aggregate": [{"op": "count", "as": "n"}], "groupby": ["event"]}],
                          "encoding": {"x": {"field": "event", "type": "ordinal", "axis": null, "scale": {"type": "point", "domain": ["alkalinity addition", "inside cleaning"], "paddingOuter": 0.169}}},
                          "layer": [
                            {"transform": [{"filter": "datum.event == 'alkalinity addition'"}], "mark": {"type": "rule", "color": "black", "strokeDash": [6, 3, 2, 3], "strokeWidth": 2.4}, "encoding": {}},
                            {"transform": [{"filter": "datum.event == 'inside cleaning'"}], "mark": {"type": "rule", "color": "#a6a6a6", "strokeDash": [1.5, 3.5], "strokeWidth": 1.4}, "encoding": {}},
                            {"mark": {"type": "text", "align": "left", "dx": 7, "fontSize": 10.5, "color": "#333333"}, "encoding": {"text": {"field": "event"}}}
                          ]
                        }
                      ]
                    }
                  ]
                }
              ]
            }
          ]
        }
      ]
    },
    {
      "width": 1350, "height": 112, "view": {"stroke": null},
      "data": {"name": "caption"},
      "encoding": {
        "y": {"field": "line", "type": "ordinal", "axis": null},
        "x": {"datum": 0, "type": "quantitative", "scale": {"domain": [0, 1]}, "axis": null},
        "text": {"field": "text"}
      },
      "layer": [
        {"transform": [{"filter": "datum.seg == 'head'"}], "mark": {"type": "text", "align": "left", "baseline": "middle", "font": "Liberation Serif", "fontWeight": "bold", "fontSize": 28, "color": "black"}},
        {"transform": [{"filter": "datum.seg == 'bold'"}], "mark": {"type": "text", "align": "left", "baseline": "middle", "font": "Liberation Serif", "fontWeight": "bold", "fontSize": 18, "dx": 372, "color": "black"}},
        {"transform": [{"filter": "datum.seg == 'tail'"}], "mark": {"type": "text", "align": "left", "baseline": "middle", "font": "Liberation Serif", "fontSize": 21.5, "dx": 930, "color": "black"}},
        {"transform": [{"filter": "datum.seg == 'body'"}], "mark": {"type": "text", "align": "left", "baseline": "middle", "font": "Liberation Serif", "fontSize": 21.5, "color": "black"}}
      ]
    }
  ],
  "config": {
    "font": "Liberation Sans",
    "view": {"stroke": "black", "strokeWidth": 2.5},
    "axis": {"grid": false, "domain": false, "tickColor": "#333333", "tickSize": 4, "tickWidth": 1.1, "labelColor": "#4d4d4d", "labelFontSize": 11.5, "labelFont": "Liberation Sans", "labelPadding": 2, "titleFont": "Liberation Sans", "titleFontWeight": "normal", "titleColor": "black", "titleFontSize": 14.5},
    "axisX": {"titlePadding": 8},
    "axisY": {"titlePadding": 12},
    "title": {"font": "Liberation Sans", "fontWeight": "normal", "fontSize": 16, "color": "black"},
    "text": {"font": "Liberation Sans"}
  }
}
